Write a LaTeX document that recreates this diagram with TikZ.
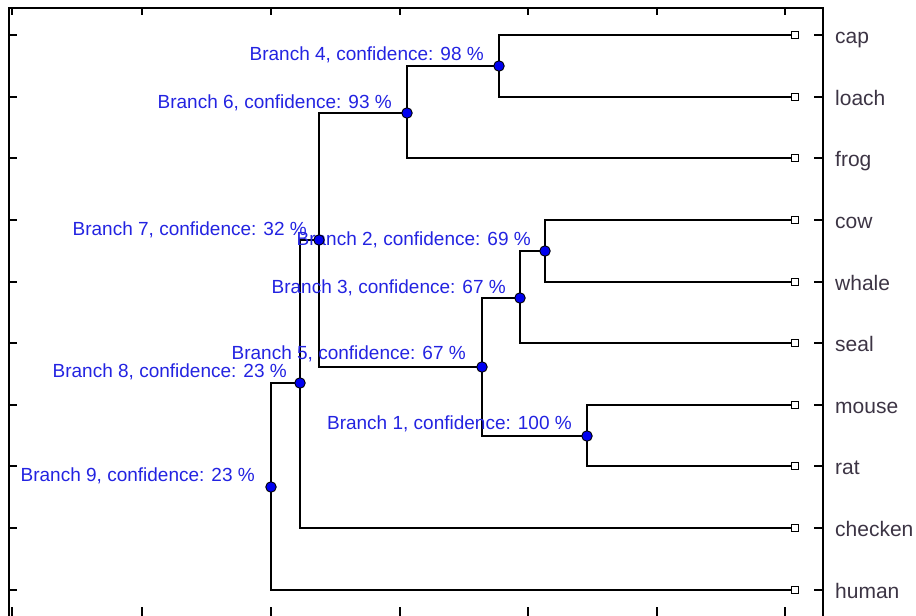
\documentclass[tikz,border=0pt]{standalone}
\usepackage{fontspec}
\setmainfont{Liberation Sans}
\definecolor{lblblue}{RGB}{35,35,225}
\definecolor{dotblue}{RGB}{0,0,240}
\definecolor{leafgray}{RGB}{60,52,68}
\begin{document}
\begin{tikzpicture}[x=1pt,y=-1pt,
  frame/.style={line width=1.4pt,black},
  tree/.style={line width=1.2pt,black},
  dot/.style={circle,draw=black,fill=dotblue,line width=0.9pt,inner sep=0pt,minimum size=10.5pt},
  leaf/.style={rectangle,draw=black,fill=white,line width=1.1pt,inner sep=0pt,minimum size=7pt},
  bl/.style={text=lblblue,inner sep=0pt,anchor=base east,font=\fontsize{19}{21}\selectfont},
  lt/.style={text=leafgray,inner sep=0pt,anchor=base west,font=\fontsize{21}{23}\selectfont}]
\useasboundingbox (0,0) rectangle (916,616);
\clip (0,0) rectangle (916,616);
% frame
\draw[frame] (9,618) -- (9,8) -- (823,8) -- (823,618) -- (9,618);
\foreach \x in {12,142,271,400,528,657,785}{
  \draw[frame] (\x,8) -- (\x,15);
  \draw[frame] (\x,618) -- (\x,607);
}
\foreach \y in {35,97,158,220,282,343,405,466,528,590}{
  \draw[frame] (9,\y) -- (17,\y);
  \draw[frame] (823,\y) -- (814,\y);
}
% leaves
\node[leaf] (cap) at (795,35) {};
\node[leaf] (loach) at (795,97) {};
\node[leaf] (frog) at (795,158) {};
\node[leaf] (cow) at (795,220) {};
\node[leaf] (whale) at (795,282) {};
\node[leaf] (seal) at (795,343) {};
\node[leaf] (mouse) at (795,405) {};
\node[leaf] (rat) at (795,466) {};
\node[leaf] (checken) at (795,528) {};
\node[leaf] (human) at (795,590) {};
\node[lt] (tcap) at (835,43) {cap};
\node[lt] (tloach) at (835,105.5) {loach};
\node[lt] (tfrog) at (835,166.5) {frog};
\node[lt] (tcow) at (835,228.5) {cow};
\node[lt] (twhale) at (835,290.5) {whale};
\node[lt] (tseal) at (835,351.5) {seal};
\node[lt] (tmouse) at (835,413.5) {mouse};
\node[lt] (trat) at (835,474.5) {rat};
\node[lt] (tchecken) at (835,536.5) {checken};
\node[lt] (thuman) at (835,598.5) {human};
% branch points
\coordinate (p4) at (499,66);
\coordinate (p6) at (407,113);
\coordinate (p2) at (545,251);
\coordinate (p3) at (520,298);
\coordinate (p1) at (587,436);
\coordinate (p5) at (482,367);
\coordinate (p7) at (319,240);
\coordinate (p8) at (300,383);
\coordinate (p9) at (271,487);
% tree lines
\draw[tree] (p4) |- (cap.west) (p4) |- (loach.west);
\draw[tree] (p6) |- (p4) (p6) |- (frog.west);
\draw[tree] (p2) |- (cow.west) (p2) |- (whale.west);
\draw[tree] (p3) |- (p2) (p3) |- (seal.west);
\draw[tree] (p1) |- (mouse.west) (p1) |- (rat.west);
\draw[tree] (p5) |- (p3) (p5) |- (p1);
\draw[tree] (p7) |- (p6) (p7) |- (p5);
\draw[tree] (p8) |- (p7) (p8) |- (checken.west);
\draw[tree] (p9) |- (p8) (p9) |- (human.west);
% labels
\node[bl] (l4) at ([xshift=-15pt,yshift=6pt]p4) {Branch 4, confidence: 98 \%};
\node[bl] (l6) at ([xshift=-15pt,yshift=5pt]p6) {Branch 6, confidence: 93 \%};
\node[bl] (l7) at ([xshift=-12pt,yshift=5pt]p7) {Branch 7, confidence: 32 \%};
\node[bl] (l2) at ([xshift=-14pt,yshift=6pt]p2) {Branch 2, confidence: 69 \%};
\node[bl] (l3) at ([xshift=-14pt,yshift=5pt]p3) {Branch 3, confidence: 67 \%};
\node[bl] (l5) at ([xshift=-16pt,yshift=8pt]p5) {Branch 5, confidence: 67 \%};
\node[bl] (l8) at ([xshift=-13pt,yshift=6pt]p8) {Branch 8, confidence: 23 \%};
\node[bl] (l1) at ([xshift=-15pt,yshift=7pt]p1) {Branch 1, confidence: 100 \%};
\node[bl] (l9) at ([xshift=-16pt,yshift=6pt]p9) {Branch 9, confidence: 23 \%};
% dots
\foreach \n in {4,6,2,3,1,5,7,8,9}{
  \node[dot] (b\n) at (p\n) {};
}
\end{tikzpicture}
\end{document}
